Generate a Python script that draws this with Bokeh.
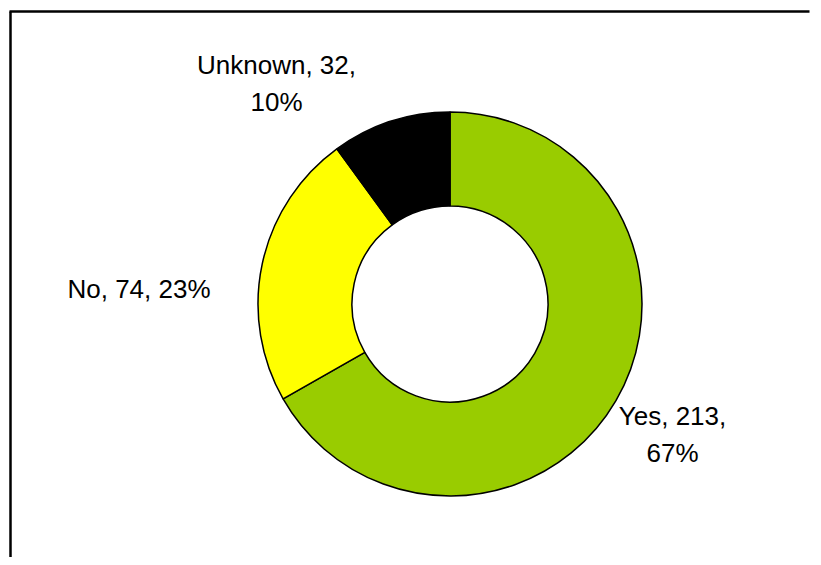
import numpy as np
from bokeh.plotting import figure
from bokeh.models import Range1d, ColumnDataSource
from bokeh.core.properties import value
from bokeh.embed import file_html
from bokeh.resources import INLINE

categories = ["Yes", "No", "Unknown"]
counts = [213, 74, 32]
colors = ["#99CC00", "#FFFF00", "#000000"]
label_x = [672, 138.5, 276]
label_y = [434, 288, 83]

W, H = 813, 557
p = figure(width=W, height=H, output_backend="svg", toolbar_location=None,
           x_range=Range1d(0, W), y_range=Range1d(0, H), min_border=0,
           outline_line_color=None)
p.axis.visible = False
p.grid.visible = False
p.background_fill_color = "white"
p.border_fill_color = "white"

cx, cy = 449.5, H - 303.5
total = sum(counts)
frac = np.array(counts) / total
ends = np.cumsum(frac)
starts = ends - frac
start_ang = np.pi / 2 - 2 * np.pi * starts
end_ang = np.pi / 2 - 2 * np.pi * ends

src = ColumnDataSource(dict(start=start_ang, end=end_ang, color=colors))
p.annular_wedge(x=cx, y=cy, inner_radius=98, outer_radius=192,
                inner_radius_units="screen", outer_radius_units="screen",
                start_angle="start", end_angle="end", direction="clock",
                fill_color="color", line_color="black", line_width=1.5, source=src)

texts = []
for c, n, f in zip(categories, counts, frac):
    pct = f"{round(f * 100)}%"
    if c == "No":
        texts.append(f"{c}, {n}, {pct}")
    else:
        texts.append(f"{c}, {n},\n{pct}")
lsrc = ColumnDataSource(dict(x=label_x, y=[H - v for v in label_y], t=texts))
p.text(x="x", y="y", text="t", source=lsrc, text_align="center",
       text_baseline="middle", text_font=value("Liberation Sans"),
       text_font_size="26px", text_color="black", text_line_height=1.25)

# chart frame (top-left corner of the bordered chart area)
p.line(x=[10, 10], y=[-10, H - 11], line_color="black", line_width=2.5,
       line_cap="butt")
p.line(x=[9, W - 4], y=[H - 11, H - 11], line_color="black", line_width=2.5,
       line_cap="butt")

open("out.html", "w").write(file_html(p, INLINE))
